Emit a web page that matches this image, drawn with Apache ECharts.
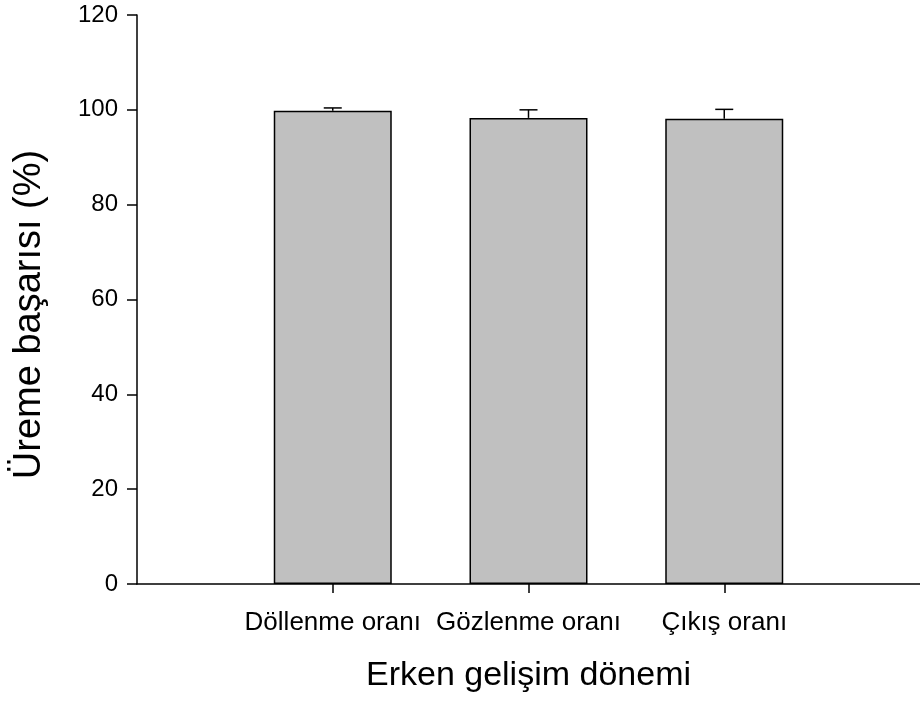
<!DOCTYPE html>
<html><head><meta charset="utf-8">
<script src="https://cdn.jsdelivr.net/npm/echarts@6/dist/echarts.min.js"></script>
<style>html,body{margin:0;padding:0;background:#fff}#c{width:920px;height:701px}</style>
</head><body><div id="c"></div>
<script>
var categories = ['Döllenme oranı', 'Gözlenme oranı', 'Çıkış oranı'];
var values = [99.8, 98.3, 98.1];
var errors = [0.6, 1.7, 2.0];
var yTicks = [0, 20, 40, 60, 80, 100, 120];

// pad with empty slots on both ends
var cats = [''].concat(categories).concat(['']);
var barData = ['-'].concat(values).concat(['-']);
var errData = values.map(function (v, i) { return [i + 1, v, v + errors[i]]; });

var chart = echarts.init(document.getElementById('c'));
var font = 'Liberation Sans, Arial, sans-serif';
chart.setOption({
  animation: false,
  grid: { left: 137, right: 0, top: 15, bottom: 117 },
  xAxis: {
    type: 'category', data: cats, boundaryGap: false,
    name: 'Erken gelişim dönemi', nameLocation: 'middle', nameGap: 75,
    nameTextStyle: { fontSize: 34, color: '#000', fontFamily: font },
    axisLine: { lineStyle: { color: '#000', width: 1.5 } },
    axisTick: { length: 9, lineStyle: { color: '#000', width: 1.5 },
      interval: function (i) { return i >= 1 && i <= categories.length; } },
    axisLabel: { fontSize: 26, color: '#000', fontFamily: font, margin: 26,
      interval: function (i) { return i >= 1 && i <= categories.length; } },
    splitLine: { show: false }
  },
  yAxis: {
    type: 'value', min: yTicks[0], max: yTicks[yTicks.length - 1], interval: 20,
    name: 'Üreme başarısı (%)', nameLocation: 'middle', nameGap: 88,
    nameTextStyle: { fontSize: 38, color: '#000', fontFamily: font, padding: [0, 30, 0, 0] },
    axisLine: { show: true, lineStyle: { color: '#000', width: 1.5 } },
    axisTick: { show: true, length: 10, lineStyle: { color: '#000', width: 1.5 } },
    axisLabel: { fontSize: 24, color: '#000', fontFamily: font, margin: 19 },
    splitLine: { show: false }
  },
  series: [
    {
      type: 'bar', data: barData, barWidth: 118,
      itemStyle: { color: '#c0c0c0', borderColor: '#000', borderWidth: 1.5 }
    },
    {
      type: 'custom', data: errData, z: 5,
      renderItem: function (params, api) {
        var x = api.value(0);
        var lo = api.coord([x, api.value(1)]);
        var hi = api.coord([x, api.value(2)]);
        var hw = 9;
        return {
          type: 'group',
          children: [
            { type: 'line', shape: { x1: lo[0], y1: lo[1], x2: hi[0], y2: hi[1] }, style: { stroke: '#000', lineWidth: 1.5 } },
            { type: 'line', shape: { x1: hi[0] - hw, y1: hi[1], x2: hi[0] + hw, y2: hi[1] }, style: { stroke: '#000', lineWidth: 1.5 } }
          ]
        };
      }
    }
  ]
});
</script></body></html>
